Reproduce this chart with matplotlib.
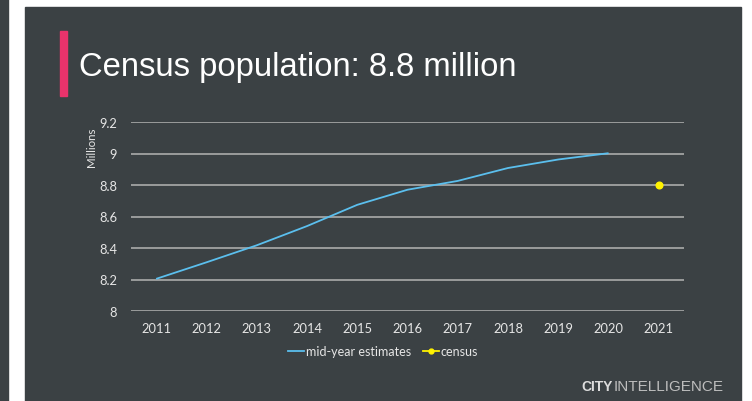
import matplotlib
matplotlib.use('Agg')
import matplotlib.pyplot as plt
from matplotlib.patches import Rectangle
from matplotlib.lines import Line2D

years = ['2011', '2012', '2013', '2014', '2015', '2016', '2017', '2018', '2019', '2020', '2021']
mid_year = [8.204, 8.309, 8.417, 8.539, 8.674, 8.770, 8.826, 8.908, 8.962, 9.002]
census_year = ['2021']
census = [8.799]
y_ticks = [8, 8.2, 8.4, 8.6, 8.8, 9, 9.2]
y_labels = ['8', '8.2', '8.4', '8.6', '8.8', '9', '9.2']

W, H = 752, 402
panel = '#3b4144'
grid = '#b4b4b4'
text_c = '#e6e6e6'
tick_font = 'Lato'

fig = plt.figure(figsize=(W / 100, H / 100), dpi=100, facecolor='white')

# background panels
fig.patches.append(Rectangle((0, 0), 8 / W, 1, transform=fig.transFigure, color=panel, zorder=-2))
fig.patches.append(Rectangle((25 / W, 0), (741 - 25) / W, (H - 8) / H, transform=fig.transFigure,
                             color=panel, zorder=-2))
fig.patches.append(Rectangle((60 / W, 1 - 97 / H), 7 / W, 65 / H, transform=fig.transFigure,
                             color='#e8336b', zorder=-1))

fig.text(79 / W, 1 - 76 / H, 'Census population: 8.8 million', fontsize=23.6, color='white',
         family='Liberation Sans', va='baseline', ha='left')

ax = fig.add_axes([131 / W, 1 - 312 / H, (684 - 131) / W, (312 - 123) / H])
ax.set_zorder(2)
ax.set_facecolor('none')
for s in ax.spines.values():
    s.set_visible(False)

x = list(range(len(years)))
ax.plot(x[:len(mid_year)], mid_year, color='#5bbfee', lw=1.3, solid_capstyle='butt', zorder=3)
cx = [years.index(c) for c in census_year]
ax.plot(cx, census, 'o', color='#fff200', markersize=4.8, zorder=4)

ax.set_xlim(-0.5, len(years) - 0.5)
ax.set_ylim(8, 9.2)
ax.set_yticks(y_ticks)
ax.set_yticklabels(y_labels)
ax.set_xticks(x)
ax.set_xticklabels(years)
ax.grid(axis='y', color=grid, lw=1.1)
ax.set_axisbelow(True)
ax.tick_params(length=0, colors=text_c, labelsize=9.3)
ax.tick_params(axis='y', pad=10)
ax.tick_params(axis='x', pad=8)
for lab in ax.get_xticklabels() + ax.get_yticklabels():
    lab.set_family(tick_font)

fig.text(92 / W, 1 - 147 / H, 'Millions', rotation=90, fontsize=8.3, color=text_c,
         family=tick_font, ha='center', va='center')

handles = [Line2D([], [], color='#5bbfee', lw=1.3),
           Line2D([], [], color='#fff200', lw=1.3, marker='o', markersize=3.5)]
leg = fig.legend(handles, ['mid-year estimates', 'census'], loc='center',
                 bbox_to_anchor=(383 / W, 1 - 352 / H), ncol=2, frameon=False,
                 handlelength=1.3, handletextpad=0.1, columnspacing=1.0,
                 prop={'family': tick_font, 'size': 9})
for t in leg.get_texts():
    t.set_color(text_c)

fig.text(581 / W, 1 - 391 / H, 'CITY', fontsize=10, fontweight='bold', color='#dcdcdc',
         family='Liberation Sans', va='baseline', ha='left')
fig.text(614 / W, 1 - 391 / H, 'INTELLIGENCE', fontsize=11, color='#bdbdbd',
         family='Liberation Sans', va='baseline', ha='left')

fig.savefig('out.png', dpi=100, facecolor='white')
